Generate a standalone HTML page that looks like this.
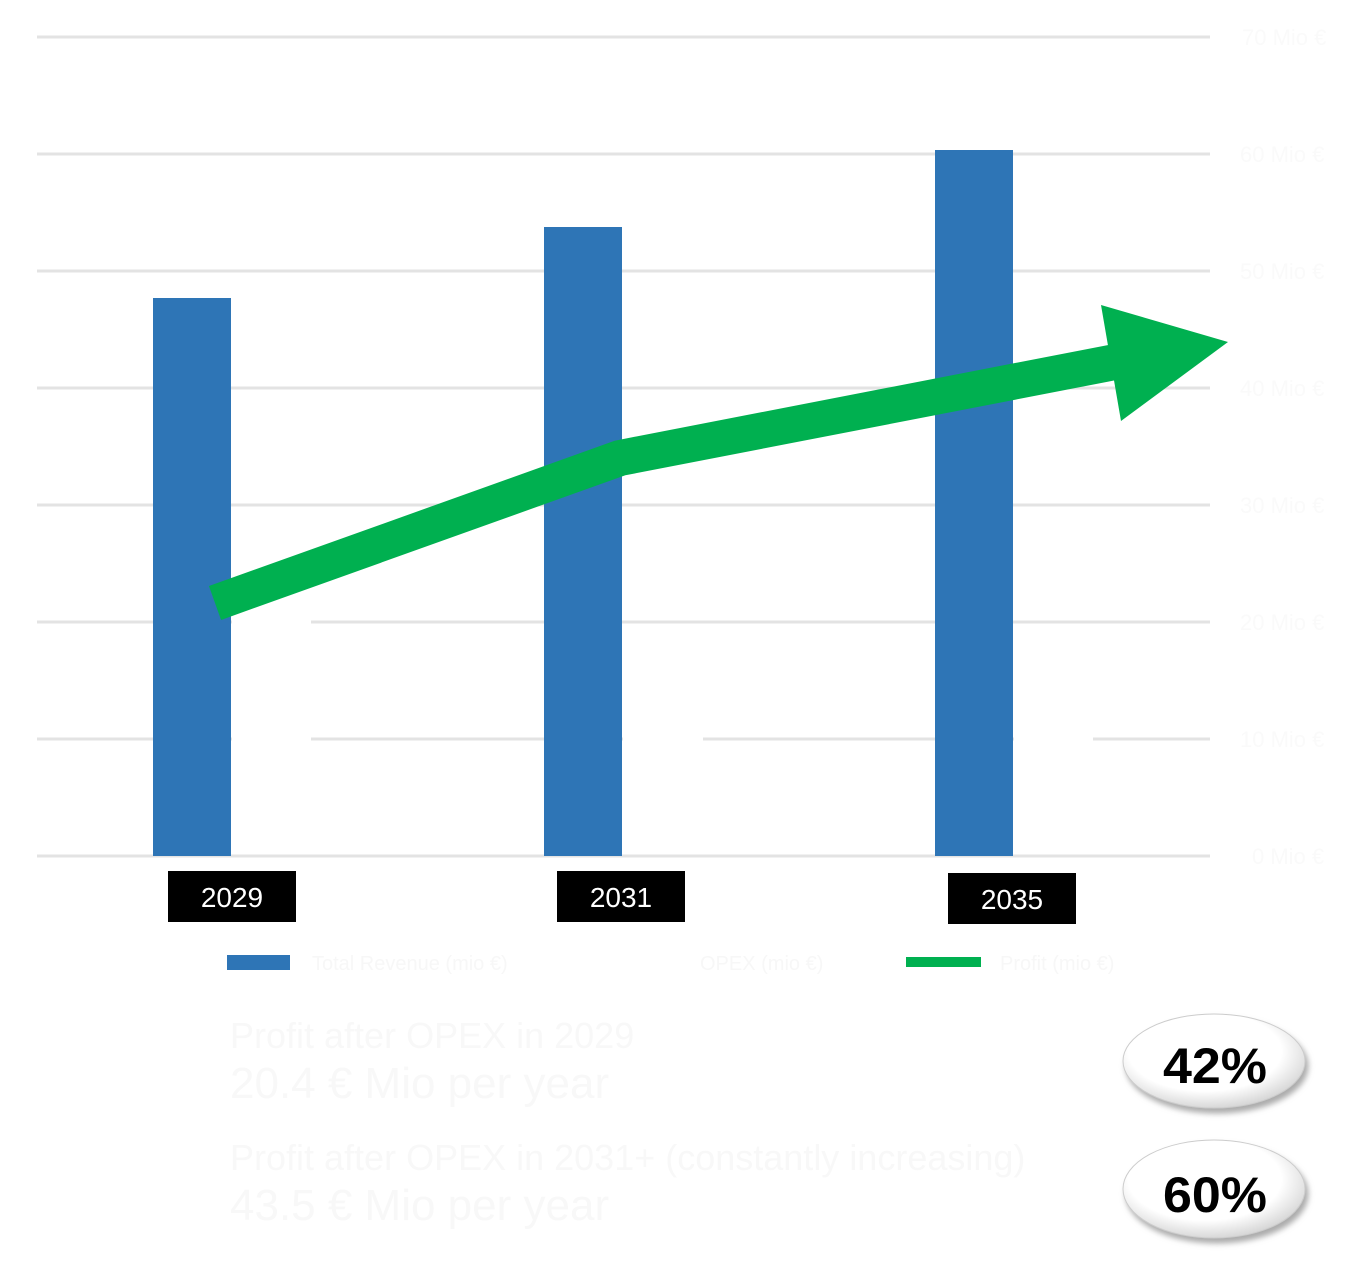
<!DOCTYPE html>
<html><head><meta charset="utf-8"><style>
html,body{margin:0;padding:0;background:#fff;}
svg{display:block;}
</style></head><body>
<svg width="1366" height="1277" viewBox="0 0 1366 1277" xmlns="http://www.w3.org/2000/svg" font-family="Liberation Sans, sans-serif">
<defs>
<radialGradient id="eg" cx="0.45" cy="0.4" r="0.6">
<stop offset="0.7" stop-color="#ffffff"/><stop offset="1" stop-color="#d8d8d8"/>
</radialGradient>
<filter id="sh" x="-20%" y="-20%" width="140%" height="150%"><feDropShadow dx="3" dy="5" stdDeviation="3" flood-color="#888" flood-opacity="0.7"/></filter>
</defs>
<g stroke="#e3e3e3" stroke-width="3">
<line x1="37" y1="37" x2="1210" y2="37"/>
<line x1="37" y1="154" x2="1210" y2="154"/>
<line x1="37" y1="271" x2="1210" y2="271"/>
<line x1="37" y1="388" x2="1210" y2="388"/>
<line x1="37" y1="505" x2="1210" y2="505"/>
<line x1="37" y1="622" x2="1210" y2="622"/>
<line x1="37" y1="739" x2="1210" y2="739"/>
<line x1="37" y1="856" x2="1210" y2="856"/>
</g>
<g fill="#fff">
<rect x="232" y="620" width="79" height="234"/>
<rect x="623" y="737" width="80" height="117"/>
<rect x="1014" y="737" width="79" height="117"/>
</g>
<g fill="#2e75b6">
<rect x="153" y="298" width="78" height="558"/>
<rect x="544" y="227" width="78" height="629"/>
<rect x="935" y="150" width="78" height="706"/>
</g>
<g fill="#fafafa" font-size="22">
<text x="1242" y="45">70 Mio €</text><text x="1240" y="162">60 Mio €</text>
<text x="1240" y="279">50 Mio €</text><text x="1240" y="396">40 Mio €</text>
<text x="1240" y="513">30 Mio €</text><text x="1240" y="630">20 Mio €</text>
<text x="1240" y="747">10 Mio €</text><text x="1252" y="864">0 Mio €</text>
</g>
<polyline points="215,603 620,458 1115,362" fill="none" stroke="#00b050" stroke-width="36" stroke-linejoin="round"/>
<polygon points="1101,305 1228,342 1121,421" fill="#00b050"/>
<g fill="#000">
<rect x="168" y="871" width="128" height="51"/>
<rect x="557" y="871" width="128" height="51"/>
<rect x="948" y="873" width="128" height="51"/>
</g>
<g fill="#fff" font-size="28" text-anchor="middle">
<text x="232" y="907">2029</text><text x="621" y="907">2031</text><text x="1012" y="909">2035</text>
</g>
<rect x="227" y="955" width="63" height="15" fill="#2e75b6"/>
<rect x="906" y="957" width="75" height="10" fill="#00b050"/>
<g fill="#f7f7f7" font-size="20">
<text x="312" y="970">Total Revenue (mio €)</text>
<text x="700" y="970">OPEX (mio €)</text>
<text x="1000" y="970">Profit (mio €)</text>
</g>
<g fill="#f8f8f8">
<text x="230" y="1048" font-size="36">Profit after OPEX in 2029</text>
<text x="230" y="1098" font-size="44">20.4 € Mio per year</text>
<text x="230" y="1170" font-size="36">Profit after OPEX in 2031+ (constantly increasing)</text>
<text x="230" y="1220" font-size="44">43.5 € Mio per year</text>
</g>
<g filter="url(#sh)">
<ellipse cx="1214" cy="1061" rx="91" ry="47" fill="url(#eg)" stroke="#ccc" stroke-width="1"/>
<ellipse cx="1214" cy="1189" rx="91" ry="49" fill="url(#eg)" stroke="#ccc" stroke-width="1"/>
</g>
<g fill="#000" font-size="50" font-weight="bold" text-anchor="middle">
<text x="1215" y="1083" textLength="104" lengthAdjust="spacingAndGlyphs">42%</text>
<text x="1215" y="1212" textLength="104" lengthAdjust="spacingAndGlyphs">60%</text>
</g>
</svg>
</body></html>
